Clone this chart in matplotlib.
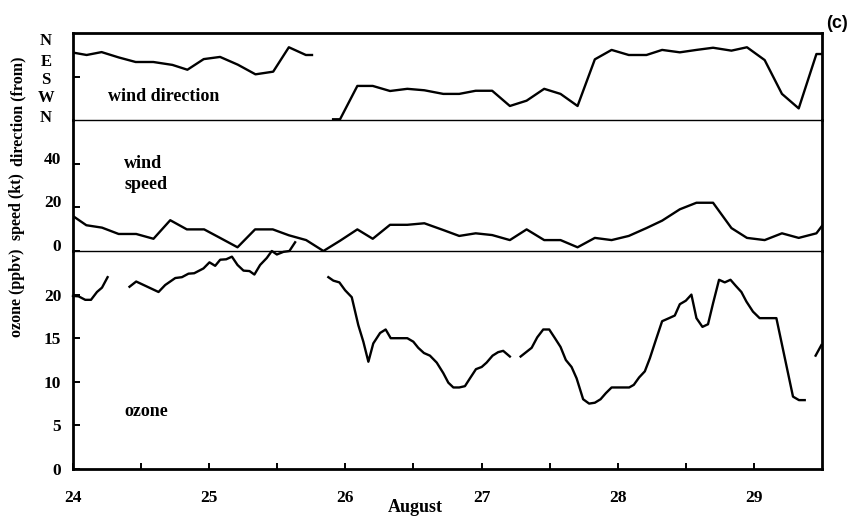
import numpy as np
import matplotlib
matplotlib.use('Agg')
import matplotlib.pyplot as plt

plt.rcParams['font.family'] = 'Liberation Serif'
plt.rcParams['font.weight'] = 'bold'

# wind data, 3-hourly (day of August)
wind_time = [24.0, 24.098, 24.213, 24.335, 24.464, 24.591, 24.714, 24.836, 24.963, 25.08,
             25.208, 25.337, 25.467, 25.585, 25.712, 25.839, 25.961, 26.088, 26.201, 26.328,
             26.455, 26.58, 26.719, 26.836, 26.957, 27.078, 27.208, 27.331, 27.46, 27.58,
             27.705, 27.832, 27.955, 28.081, 28.211, 28.326, 28.456, 28.578, 28.7, 28.835,
             28.949, 29.079, 29.206, 29.329, 29.459, 29.5]
wind_speed = [16, 11.8, 10.7, 7.8, 7.8, 5.6, 14.1, 9.9, 9.9, 6,
              1.7, 9.9, 9.9, 7.2, 5, 0, 4.7, 9.9, 5.6, 12,
              12, 12.7, 9.6, 6.9, 8.1, 7.3, 5, 9.9, 5, 5,
              1.7, 6, 5, 6.9, 10.5, 13.9, 19.1, 22.1, 22.1, 10.5,
              6, 5, 8.1, 6, 8.1, 11.5]

# wind direction (degrees, from), two pieces
dir_time_1 = [24.0, 24.1, 24.21, 24.335, 24.46, 24.59, 24.73, 24.84, 24.96, 25.08,
              25.21, 25.34, 25.47, 25.585, 25.71, 25.755]
dir_deg_1 = [81, 91, 79, 101, 120, 120, 132, 152, 108, 99,
             131, 171, 160, 59, 91, 91]
dir_time_2 = [25.91, 25.961, 26.088, 26.201, 26.328, 26.455, 26.58, 26.719, 26.836, 26.957,
              27.078, 27.208, 27.331, 27.46, 27.58, 27.705, 27.832, 27.955, 28.081, 28.211,
              28.326, 28.456, 28.578, 28.7, 28.835, 28.949, 29.079, 29.206, 29.329, 29.459,
              29.495]
dir_deg_2 = [357, 357, 219, 219, 240, 231, 237, 252, 252, 239,
             239, 302, 280, 231, 252, 302, 109, 70, 91, 91,
             70, 80, 70, 61, 73, 59, 112, 252, 312, 87,
             87]

# ozone (ppbv), pieces separated by data gaps
oz_time_1 = [24.0, 24.041, 24.09, 24.132, 24.176, 24.213, 24.254]
oz_val_1 = [19.85, 19.8, 19.4, 19.4, 20.3, 20.8, 22.0]
oz_time_2 = [24.415, 24.464, 24.628, 24.677, 24.751, 24.8, 24.848, 24.89, 24.958, 25.002,
             25.044, 25.081, 25.125, 25.167, 25.208, 25.252, 25.296, 25.332, 25.374, 25.423,
             25.46, 25.497, 25.545, 25.589, 25.631]
oz_val_2 = [20.9, 21.5, 20.3, 21.1, 21.9, 22.0, 22.4, 22.45, 23.0, 23.7,
            23.3, 24.0, 24.05, 24.35, 23.4, 22.75, 22.7, 22.3, 23.4, 24.2,
            25.0, 24.6, 24.9, 25.0, 26.0]
oz_time_3 = [25.875, 25.912, 25.956, 25.998, 26.047, 26.095, 26.132, 26.169, 26.205, 26.255,
             26.296, 26.333, 26.401, 26.455, 26.499, 26.535, 26.577, 26.621, 26.671, 26.719,
             26.756, 26.793, 26.836, 26.878, 26.915, 26.959, 27.001, 27.037, 27.081, 27.122,
             27.159, 27.208]
oz_val_3 = [22.0, 21.6, 21.4, 20.5, 19.7, 16.5, 14.6, 12.3, 14.4, 15.6,
            16.0, 15.0, 15.0, 15.0, 14.6, 13.9, 13.3, 13.0, 12.2, 11.0,
            9.9, 9.35, 9.35, 9.5, 10.4, 11.45, 11.7, 12.2, 13.0, 13.4,
            13.55, 12.9]
oz_time_4 = [27.287, 27.368, 27.409, 27.453, 27.497, 27.539, 27.58, 27.619, 27.661, 27.698,
             27.746, 27.79, 27.832, 27.874, 27.913, 27.955, 27.991, 28.04, 28.084, 28.118,
             28.157, 28.199, 28.236, 28.28, 28.326, 28.377, 28.419, 28.456, 28.5, 28.541,
             28.578, 28.622, 28.663, 28.7, 28.744, 28.786, 28.828, 28.867, 28.908, 28.945,
             28.993, 29.042, 29.079, 29.165, 29.287, 29.331, 29.373]
oz_val_4 = [12.9, 13.9, 15.1, 16.0, 16.0, 15.0, 14.0, 12.5, 11.7, 10.4,
            8.0, 7.5, 7.6, 8.0, 8.7, 9.35, 9.35, 9.35, 9.35, 9.65,
            10.5, 11.2, 12.7, 14.8, 16.95, 17.3, 17.6, 18.9, 19.3, 20.0,
            17.3, 16.3, 16.6, 19.0, 21.7, 21.4, 21.7, 21.0, 20.3, 19.2,
            18.05, 17.3, 17.3, 17.3, 8.3, 7.9, 7.9]
oz_time_5 = [29.453, 29.495]
oz_val_5 = [13.0, 14.2]

day_ticks = [24, 25, 26, 27, 28, 29]
compass = ['N', 'E', 'S', 'W', 'N']


def join(*parts):
    out = []
    for p in parts:
        out += list(p) + [np.nan]
    return np.array(out[:-1], dtype=float)


dir_t = join(dir_time_1, dir_time_2)
dir_v = join(dir_deg_1, dir_deg_2)
oz_t = join(oz_time_1, oz_time_2, oz_time_3, oz_time_4, oz_time_5)
oz_v = join(oz_val_1, oz_val_2, oz_val_3, oz_val_4, oz_val_5)

W, H = 859, 517
fig = plt.figure(figsize=(W / 100, H / 100), dpi=100)


def rect(x0, y0, x1, y1):
    return [x0 / W, 1 - y1 / H, (x1 - x0) / W, (y1 - y0) / H]


ax_dir = fig.add_axes(rect(73, 33, 822, 120))
ax_sp = fig.add_axes(rect(73, 120, 822, 251))
ax_oz = fig.add_axes(rect(73, 251, 822, 469))

lw = 1.7
outer = 2.0
inner = 1.0
tick_fs = 12.5

for ax in (ax_dir, ax_sp, ax_oz):
    ax.set_xlim(24, 29.5)
    ax.patch.set_alpha(0)
    for s in ('left', 'right'):
        ax.spines[s].set_linewidth(outer)
    ax.tick_params(axis='y', direction='in', length=5, width=1.4,
                   labelsize=tick_fs, pad=8.5)

ax_dir.spines['top'].set_linewidth(outer)
ax_dir.spines['bottom'].set_linewidth(inner)
ax_sp.spines['top'].set_visible(False)
ax_sp.spines['bottom'].set_linewidth(inner)
ax_oz.spines['top'].set_visible(False)
ax_oz.spines['bottom'].set_linewidth(outer)

# wind direction
ax_dir.plot(dir_t, dir_v, color='black', lw=lw, solid_joinstyle='round')
ax_dir.set_ylim(360, 0)
ax_dir.set_yticks([180])
ax_dir.set_yticklabels([])
ax_dir.set_xticks([])

# wind speed
ax_sp.plot(wind_time, wind_speed, color='black', lw=lw, solid_joinstyle='round')
ax_sp.set_ylim(0, 60)
ax_sp.set_yticks([0, 20, 40])
ax_sp.set_xticks([])
for t in ax_sp.yaxis.get_major_ticks():
    t.label1.set_verticalalignment('baseline')

# ozone
ax_oz.plot(oz_t, oz_v, color='black', lw=lw, solid_joinstyle='round', clip_on=False)
ax_oz.set_ylim(0, 25)
ax_oz.set_yticks([0, 5, 10, 15, 20])
ax_oz.set_xticks(day_ticks)
ax_oz.set_xticks([d + 0.5 for d in day_ticks[:-1]], minor=True)
ax_oz.tick_params(axis='x', which='both', direction='in', length=4.5, width=1.4,
                  labelsize=tick_fs, pad=15)


def ftext(x, y, s, **kw):
    fig.text(x / W, 1 - y / H, s, **kw)


# left labels
ftext(18, 111, 'direction (from)', rotation=90, ha='center', va='center', fontsize=11.5)
ftext(17, 207, 'speed (kt)', rotation=90, ha='center', va='center', fontsize=11.5)
ftext(17, 293, 'ozone (ppbv)', rotation=90, ha='center', va='center', fontsize=11.5)
for lab, y in zip(compass, [41, 61.5, 80.5, 98.5, 118]):
    ftext(46, y, lab, ha='center', va='center', fontsize=12)

# panel names
ftext(108, 101, 'wind direction', ha='left', va='baseline', fontsize=13)
ftext(124, 168, 'wind', ha='left', va='baseline', fontsize=13)
ftext(124, 189, 'speed', ha='left', va='baseline', fontsize=13)
ftext(124, 416, 'ozone', ha='left', va='baseline', fontsize=13)
ftext(415, 512, 'August', ha='center', va='baseline', fontsize=13)
ftext(837, 23, '(c)', ha='center', va='center', fontsize=13,
      family='Liberation Sans', weight='bold')

fig.savefig('out.png', dpi=100)
